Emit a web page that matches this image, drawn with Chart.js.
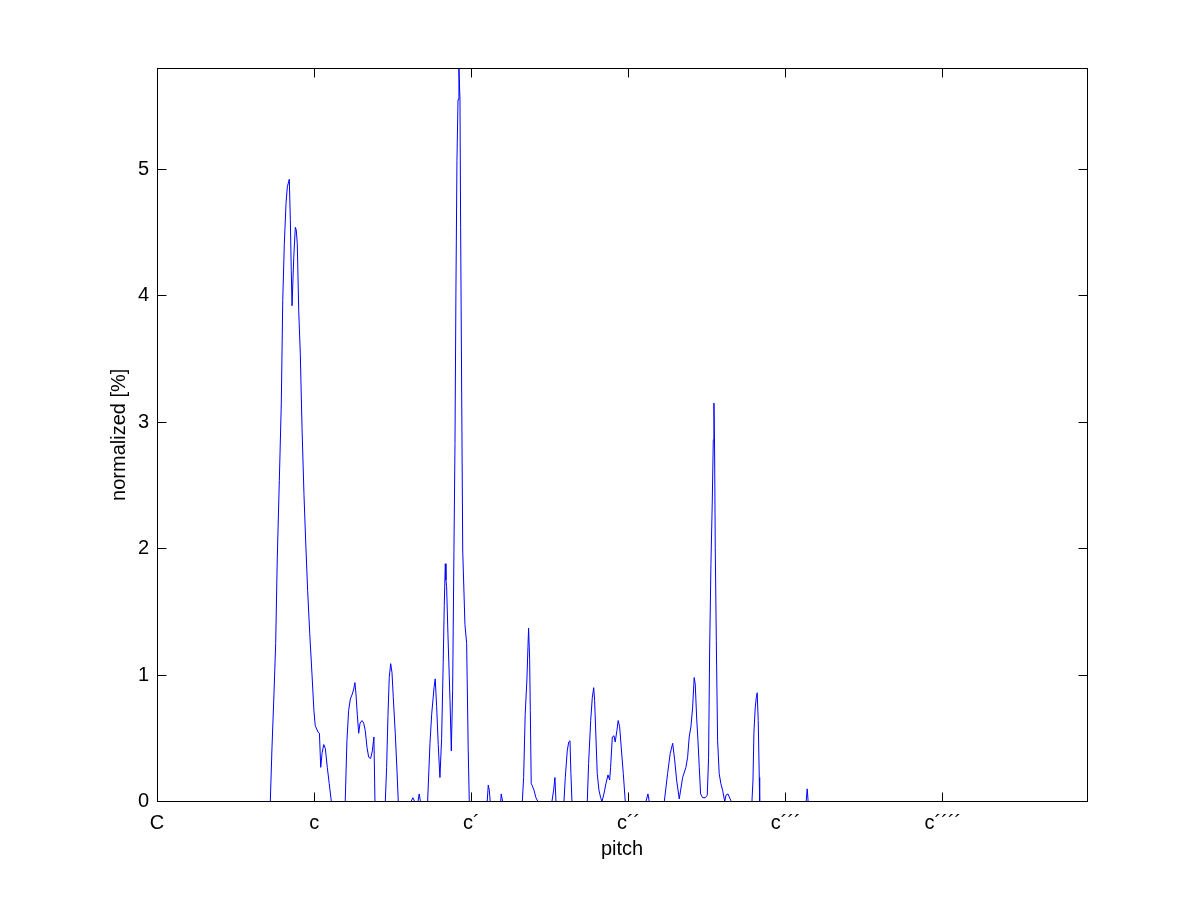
<!DOCTYPE html>
<html>
<head>
<meta charset="utf-8">
<script src="https://cdn.jsdelivr.net/npm/chart.js@4.4.1/dist/chart.umd.min.js"></script>
<style>
  html, body { margin: 0; padding: 0; background: #fff; }
  #wrap { width: 1201px; height: 901px; }
</style>
</head>
<body>
<div id="wrap"><canvas id="pitchChart" width="1201" height="901"></canvas></div>
<script>
// pitch in semitones above C, level in percent
const pitch = [
  0, 8.65, 8.78, 8.93, 9.06, 9.18, 9.34, 9.49, 9.60, 9.72, 9.85, 9.95, 10.10, 10.18, 10.25, 10.31,
  10.44, 10.56, 10.63, 10.71, 10.82, 10.94, 11.07, 11.22, 11.35, 11.50, 11.66, 11.83, 11.98, 12.08,
  12.29, 12.40, 12.50, 12.60, 12.73, 12.85, 13.00, 13.15, 13.31,
  14.37, 14.50, 14.63, 14.76, 14.91, 15.02, 15.11, 15.19, 15.29, 15.40, 15.50, 15.65, 15.78, 15.90,
  16.03, 16.16, 16.31, 16.44, 16.56, 16.64,
  17.43, 17.53, 17.63, 17.73, 17.84, 17.94, 18.04, 18.19, 18.32, 18.42,
  19.39, 19.54, 19.67, 19.92, 20.02, 20.11,
  20.66, 20.84, 20.97, 21.15, 21.24, 21.35, 21.47, 21.60, 21.73, 21.85, 21.93, 22.01, 22.06, 22.11,
  22.21, 22.37, 22.47, 22.57, 22.67, 22.75, 22.82, 22.90, 22.98, 23.05, 23.13, 23.18, 23.26, 23.34,
  23.51, 23.64, 23.76, 23.84,
  25.21, 25.29, 25.37, 25.44,
  26.24, 26.28, 26.39,
  27.89, 27.99, 28.11, 28.24, 28.32, 28.37, 28.45, 28.50, 28.57, 28.63, 28.78, 28.93, 29.08,
  30.15, 30.28, 30.38, 30.46,
  31.07, 31.17, 31.32, 31.43, 31.53, 31.60, 31.68,
  32.85, 32.95, 33.11, 33.23, 33.34, 33.41, 33.51, 33.61, 33.74, 33.87, 33.97, 34.12, 34.27, 34.43,
  34.56, 34.63, 34.76, 34.89, 34.98, 35.11, 35.21, 35.32, 35.44, 35.60, 35.75,
  37.33, 37.48, 37.58,
  38.73, 38.98, 39.18, 39.37, 39.52, 39.67, 39.87, 40.13, 40.38, 40.51, 40.63, 40.76, 40.89, 41.01,
  41.09, 41.20, 41.30, 41.40, 41.50, 41.66, 41.86, 42.01, 42.11, 42.19, 42.29, 42.39, 42.47, 42.52,
  42.57, 42.62, 42.70, 42.80, 42.92, 43.05, 43.18, 43.34, 43.44, 43.59, 43.84,
  45.42, 45.50, 45.57, 45.67, 45.75, 45.82, 45.90, 45.98, 46.01,
  49.56, 49.64, 49.71,
  71
];
const level = [
  0, 0, 0.43, 0.85, 1.25, 1.91, 2.54, 3.15, 3.96, 4.41, 4.73, 4.86, 4.92, 4.60, 4.20, 3.92,
  4.30, 4.54, 4.52, 4.41, 3.88, 3.54, 2.96, 2.43, 2.06, 1.67, 1.33, 1.01, 0.72, 0.60,
  0.55, 0.54, 0.27, 0.38, 0.45, 0.42, 0.27, 0.14, 0,
  0, 0.48, 0.72, 0.81, 0.85, 0.89, 0.94, 0.85, 0.69, 0.54, 0.62, 0.64, 0.62, 0.56,
  0.43, 0.35, 0.34, 0.40, 0.51, 0,
  0, 0.27, 0.67, 0.98, 1.09, 1.02, 0.82, 0.54, 0.25, 0,
  0, 0.03, 0, 0, 0.06, 0,
  0, 0.46, 0.69, 0.90, 0.97, 0.75, 0.45, 0.19, 0.50, 1.10, 1.55, 1.88, 1.75, 1.70,
  1.33, 0.80, 0.40, 0.88, 1.98, 2.83, 4.02, 5.07, 5.55, 5.80, 5.55, 4.54, 3.23, 1.98,
  1.40, 1.25, 0.40, 0,
  0, 0.13, 0.09, 0,
  0, 0.06, 0,
  0, 0.19, 0.69, 0.96, 1.22, 1.37, 1.12, 0.72, 0.14, 0.13, 0.09, 0.03, 0,
  0, 0.09, 0.19, 0,
  0, 0.19, 0.40, 0.47, 0.48, 0.22, 0,
  0, 0.30, 0.64, 0.82, 0.90, 0.80, 0.51, 0.22, 0.09, 0.03, 0, 0.06, 0.14, 0.21,
  0.17, 0.27, 0.51, 0.52, 0.47, 0.56, 0.64, 0.59, 0.43, 0.22, 0,
  0, 0.06, 0,
  0, 0.22, 0.38, 0.46, 0.33, 0.17, 0.02, 0.19, 0.27, 0.35, 0.51, 0.59, 0.74, 0.98,
  0.93, 0.66, 0.48, 0.27, 0.06, 0.03, 0.03, 0.05, 0.35, 1.19, 1.88, 2.36, 2.86, 3.15,
  2.78, 2.01, 1.27, 0.48, 0.22, 0.14, 0.09, 0, 0.05, 0.06, 0,
  0, 0.17, 0.54, 0.74, 0.82, 0.86, 0.64, 0.19, 0,
  0, 0.10, 0,
  0
];
const pitchTicks = [0, 12, 24, 36, 48, 60];
const pitchLabels = ["C", "c", "c\u00b4", "c\u00b4\u00b4", "c\u00b4\u00b4\u00b4", "c\u00b4\u00b4\u00b4\u00b4"];

const FONT = "'Liberation Sans', Arial, Helvetica, sans-serif";
const FONT_SIZE = 20;

// matlab style box with inward ticks, plus axis titles
const frame = {
  id: "frame",
  afterDraw(chart) {
    const { ctx, chartArea: a, scales } = chart;
    ctx.save();
    ctx.strokeStyle = "#000";
    ctx.lineWidth = 1;
    const L = Math.floor(a.left) + 0.5, R = Math.floor(a.right) + 0.5;
    const T = Math.floor(a.top) + 0.5, B = scales.y.getPixelForValue(0);
    ctx.strokeRect(L, T, R - L, B - T);
    ctx.beginPath();
    scales.x.ticks.forEach(t => {
      const x = Math.floor(scales.x.getPixelForValue(t.value)) + 0.5;
      ctx.moveTo(x, B); ctx.lineTo(x, B - 9);
      ctx.moveTo(x, T); ctx.lineTo(x, T + 9);
    });
    scales.y.ticks.forEach(t => {
      const y = Math.floor(scales.y.getPixelForValue(t.value)) + 0.5;
      ctx.moveTo(L, y); ctx.lineTo(L + 9, y);
      ctx.moveTo(R, y); ctx.lineTo(R - 9, y);
    });
    ctx.stroke();

    ctx.fillStyle = "#000";
    ctx.font = FONT_SIZE + "px " + FONT;
    ctx.textAlign = "center";
    ctx.textBaseline = "middle";
    ctx.fillText("pitch", (a.left + a.right) / 2, 849);
    ctx.translate(119, (a.top + a.bottom) / 2);
    ctx.rotate(-Math.PI / 2);
    ctx.fillText("normalized [%]", 0, 0);
    ctx.restore();
  }
};

new Chart(document.getElementById("pitchChart"), {
  type: "line",
  data: {
    datasets: [{
      data: pitch.map((p, i) => ({ x: p, y: level[i] })),
      borderColor: "#0000ff",
      borderWidth: 1,
      pointRadius: 0,
      tension: 0,
      fill: false
    }]
  },
  options: {
    responsive: false,
    animation: false,
    layout: { padding: { top: 68, right: 114, left: 0, bottom: 0 } },
    plugins: { legend: { display: false }, tooltip: { enabled: false } },
    scales: {
      x: {
        type: "linear",
        min: 0,
        max: 71,
        grid: { display: false, drawTicks: false },
        border: { display: false },
        afterFit: s => { s.height = 99.5; },
        afterBuildTicks: s => { s.ticks = pitchTicks.map(v => ({ value: v })); },
        ticks: {
          autoSkip: false,
          maxRotation: 0,
          padding: 10,
          color: "#000",
          font: { family: FONT, size: FONT_SIZE },
          callback: v => pitchLabels[pitchTicks.indexOf(v)]
        }
      },
      y: {
        min: 0,
        max: 5.8,
        grid: { display: false, drawTicks: false },
        border: { display: false },
        afterFit: s => { s.width = 157; },
        ticks: {
          stepSize: 1,
          includeBounds: false,
          padding: 8,
          color: "#000",
          font: { family: FONT, size: FONT_SIZE }
        }
      }
    }
  },
  plugins: [frame]
});
</script>
</body>
</html>
